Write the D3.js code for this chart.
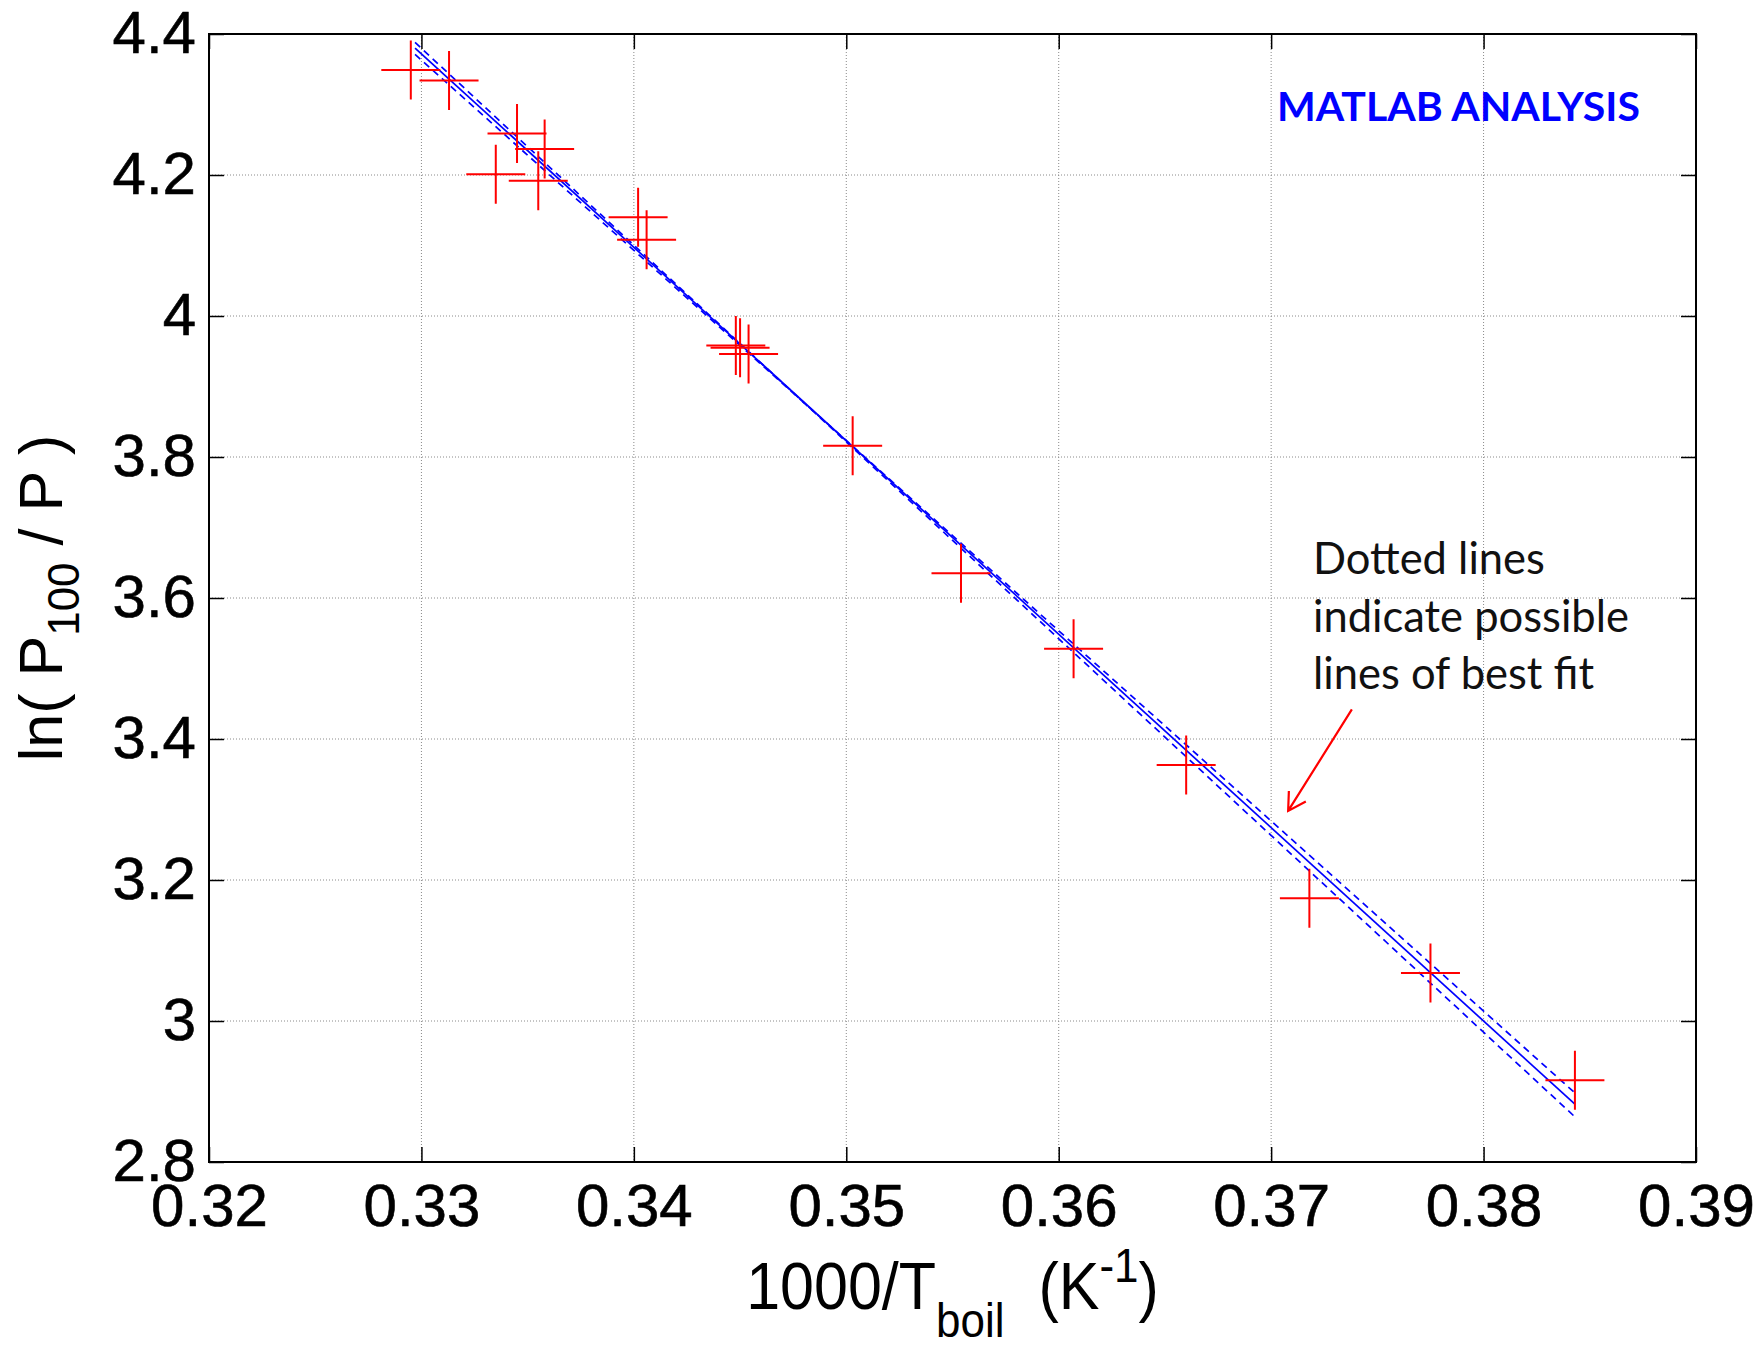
<!DOCTYPE html>
<html lang="en">
<head>
<meta charset="utf-8">
<script src="https://cdnjs.cloudflare.com/ajax/libs/d3/7.8.5/d3.min.js"></script>
<title>ln(P100/P) against 1000/Tboil</title>
<style>
body { margin: 0; background: #fff; }
</style>
</head>
<body>
<script>
var w = 1760;
var h = 1348;
var margin = {top: 34, right: 64, bottom: 186, left: 209};
var iw = w - margin.left - margin.right;
var ih = h - margin.top - margin.bottom;

var invT = [0.3295, 0.3313, 0.3345, 0.3358, 0.3335, 0.3355, 0.3402, 0.3406, 0.3448, 0.3450,
            0.3454, 0.3503, 0.3554, 0.3607, 0.3660, 0.3718, 0.3775, 0.3843];
var lnP  = [4.349, 4.334, 4.259, 4.237, 4.201, 4.192, 4.140, 4.108, 3.958, 3.955,
            3.946, 3.816, 3.635, 3.528, 3.363, 3.174, 3.068, 2.916];

// best fit and the two extreme fits, given by their end points
var fitX = [0.3297, 0.3843];
var fitY = [4.380, 2.882];
var steepY = [4.388, 2.864];
var shallowY = [4.371, 2.898];

var xTicks = [0.32, 0.33, 0.34, 0.35, 0.36, 0.37, 0.38, 0.39];
var xTickLabels = ["0.32", "0.33", "0.34", "0.35", "0.36", "0.37", "0.38", "0.39"];
var yTicks = [2.8, 3.0, 3.2, 3.4, 3.6, 3.8, 4.0, 4.2, 4.4];
var yTickLabels = ["2.8", "3", "3.2", "3.4", "3.6", "3.8", "4", "4.2", "4.4"];

var noteLines = ["Dotted lines", "indicate possible", "lines of best fit"];
var arrowFrom = [0.3738, 3.442];   // data coords of the arrow tail
var arrowTo = [0.3708, 3.298];     // and of its tip

var axisFont = "'Liberation Sans', Arial, sans-serif";
var noteFont = "Lato, 'Open Sans', sans-serif";

var xScale = d3.scaleLinear().domain([0.32, 0.39]).range([0, iw]);
var yScale = d3.scaleLinear().domain([2.8, 4.4]).range([ih, 0]);

var svg = d3.select("body")
            .append("svg")
            .attr("width", w)
            .attr("height", h);

svg.append("rect").attr("width", w).attr("height", h).attr("fill", "#fff");

var g = svg.append("g")
           .attr("transform", "translate(" + margin.left + "," + margin.top + ")");

// dotted grid
g.selectAll(".vgrid")
    .data(xTicks)
    .enter()
    .append("line")
    .attr("x1", function(d){ return xScale(d); })
    .attr("x2", function(d){ return xScale(d); })
    .attr("y1", 0)
    .attr("y2", ih)
    .attr("stroke", "#8a8a8a")
    .attr("stroke-width", 1)
    .attr("stroke-dasharray", "1,2");

g.selectAll(".hgrid")
    .data(yTicks)
    .enter()
    .append("line")
    .attr("x1", 0)
    .attr("x2", iw)
    .attr("y1", function(d){ return yScale(d); })
    .attr("y2", function(d){ return yScale(d); })
    .attr("stroke", "#8a8a8a")
    .attr("stroke-width", 1)
    .attr("stroke-dasharray", "1,2");

// axes, ticks pointing inwards on all four sides
var axBottom = g.append("g")
    .attr("transform", "translate(0," + ih + ")")
    .call(d3.axisBottom(xScale)
            .tickValues(xTicks)
            .tickFormat(function(d, i){ return xTickLabels[i]; })
            .tickSizeInner(-15)
            .tickSizeOuter(0)
            .tickPadding(21));

var axLeft = g.append("g")
    .call(d3.axisLeft(yScale)
            .tickValues(yTicks)
            .tickFormat(function(d, i){ return yTickLabels[i]; })
            .tickSizeInner(-15)
            .tickSizeOuter(0)
            .tickPadding(13));

var axTop = g.append("g")
    .call(d3.axisTop(xScale).tickValues(xTicks).tickFormat("").tickSizeInner(-15).tickSizeOuter(0));

var axRight = g.append("g")
    .attr("transform", "translate(" + iw + ",0)")
    .call(d3.axisRight(yScale).tickValues(yTicks).tickFormat("").tickSizeInner(-15).tickSizeOuter(0));

[axBottom, axLeft, axTop, axRight].forEach(function(a){
    a.select(".domain").remove();
    a.selectAll("line").attr("stroke", "#000").attr("stroke-width", 1.5);
    a.selectAll("text")
        .attr("fill", "#000")
        .attr("stroke", "#000")
        .attr("stroke-width", 0.6)
        .style("font-family", axisFont)
        .style("font-size", "60px");
});
axLeft.selectAll("text").attr("dy", "0.3em");

// box
g.append("rect")
    .attr("width", iw)
    .attr("height", ih)
    .attr("fill", "none")
    .attr("stroke", "#000")
    .attr("stroke-width", 2);

// fit lines
var fits = [
    {ys: steepY, dash: "7,5"},
    {ys: shallowY, dash: "7,5"},
    {ys: fitY, dash: null}
];
g.selectAll(".fit")
    .data(fits)
    .enter()
    .append("line")
    .attr("x1", xScale(fitX[0]))
    .attr("x2", xScale(fitX[1]))
    .attr("y1", function(d){ return yScale(d.ys[0]); })
    .attr("y2", function(d){ return yScale(d.ys[1]); })
    .attr("stroke", "#0000ff")
    .attr("stroke-width", 1.7)
    .attr("stroke-dasharray", function(d){ return d.dash; });

// '+' markers
var half = 29.5;
g.selectAll(".pt")
    .data(invT)
    .enter()
    .append("path")
    .attr("d", function(d, i){
        var cx = xScale(d), cy = yScale(lnP[i]);
        return "M" + (cx - half) + "," + cy + "H" + (cx + half) +
               "M" + cx + "," + (cy - half) + "V" + (cy + half);
    })
    .attr("fill", "none")
    .attr("stroke", "#ff0000")
    .attr("stroke-width", 2);

// annotation
g.append("text")
    .attr("x", 1277 - margin.left)
    .attr("y", 121 - margin.top)
    .attr("fill", "#0000ff")
    .style("font-family", noteFont)
    .style("font-weight", "bold")
    .style("font-size", "41px")
    .text("MATLAB ANALYSIS");

g.selectAll(".note")
    .data(noteLines)
    .enter()
    .append("text")
    .attr("x", 1313 - margin.left)
    .attr("y", function(d, i){ return 574 - margin.top + i * 57.7; })
    .attr("fill", "#111")
    .style("font-family", noteFont)
    .style("font-size", "43.5px")
    .text(function(d){ return d; });

var ax0 = xScale(arrowFrom[0]), ay0 = yScale(arrowFrom[1]);
var ax1 = xScale(arrowTo[0]), ay1 = yScale(arrowTo[1]);
var ang = Math.atan2(ay0 - ay1, ax0 - ax1);
var barb = 20, spread = Math.PI / 6;
g.append("path")
    .attr("d", "M" + ax0 + "," + ay0 + "L" + ax1 + "," + ay1 +
               "M" + (ax1 + barb * Math.cos(ang - spread)) + "," + (ay1 + barb * Math.sin(ang - spread)) +
               "L" + ax1 + "," + ay1 +
               "L" + (ax1 + barb * Math.cos(ang + spread)) + "," + (ay1 + barb * Math.sin(ang + spread)))
    .attr("fill", "none")
    .attr("stroke", "#ff0000")
    .attr("stroke-width", 2.2);

// axis titles (the original lettering is a bit taller than Arial)
var xt = svg.append("text")
    .attr("transform", "translate(" + (margin.left + iw / 2) + ",1309) scale(1,1.1)")
    .attr("text-anchor", "middle")
    .attr("fill", "#000")
    .style("font-family", axisFont)
    .style("font-size", "61px")
    .style("white-space", "pre");
xt.append("tspan").text("1000/T");
xt.append("tspan").attr("dy", 25).style("font-size", "44px").text("boil");
xt.append("tspan").attr("dy", -25).text("  (K");
xt.append("tspan").attr("dy", -25).style("font-size", "44px").text("-1");
xt.append("tspan").attr("dy", 25).text(")");

var yt = svg.append("text")
    .attr("transform", "translate(62," + (margin.top + ih / 2) + ") rotate(-90)")
    .attr("text-anchor", "middle")
    .attr("fill", "#000")
    .style("font-family", axisFont)
    .style("font-size", "61px")
    .style("white-space", "pre");
yt.append("tspan").text("ln( P");
yt.append("tspan").attr("dy", 17).style("font-size", "44px").text("100");
yt.append("tspan").attr("dy", -17).text(" / P )");
</script>
</body>
</html>
